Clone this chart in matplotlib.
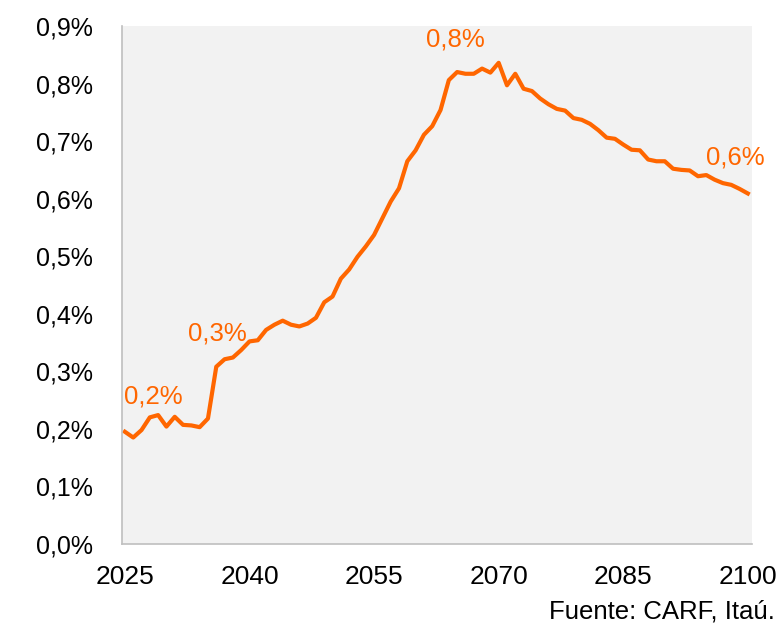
import matplotlib.pyplot as plt
from matplotlib.ticker import FuncFormatter

years = list(range(2025, 2101))
values = [
    0.195, 0.185, 0.198, 0.220, 0.224, 0.204, 0.221, 0.207, 0.206, 0.203,  # 2025-2034
    0.218, 0.308, 0.321, 0.324, 0.337, 0.352, 0.354, 0.372, 0.381, 0.388,  # 2035-2044
    0.381, 0.378, 0.383, 0.393, 0.420, 0.430, 0.461, 0.477, 0.499, 0.517,  # 2045-2054
    0.537, 0.566, 0.595, 0.618, 0.665, 0.684, 0.711, 0.726, 0.754, 0.806,  # 2055-2064
    0.820, 0.817, 0.817, 0.826, 0.819, 0.836, 0.797, 0.817, 0.791, 0.787,  # 2065-2074
    0.774, 0.764, 0.756, 0.753, 0.740, 0.737, 0.730, 0.719, 0.706, 0.704,  # 2075-2084
    0.694, 0.685, 0.684, 0.668, 0.665, 0.665, 0.652, 0.650, 0.649, 0.639,  # 2085-2094
    0.641, 0.633, 0.627, 0.624, 0.617, 0.609,                              # 2095-2100
]
x_ticks = [2025, 2040, 2055, 2070, 2085, 2100]
y_ticks = [0.0, 0.1, 0.2, 0.3, 0.4, 0.5, 0.6, 0.7, 0.8, 0.9]
labels = ["0,2%", "0,3%", "0,8%", "0,6%"]
label_pos = [(2028.4, 0.257), (2036.1, 0.365), (2064.8, 0.876), (2098.5, 0.672)]

ORANGE = "#FF6600"

plt.rcParams["font.family"] = ["Liberation Sans", "DejaVu Sans"]

fig = plt.figure(figsize=(7.82, 6.26), dpi=100)
ax = fig.add_axes([122 / 782, 1 - 544 / 626, 630 / 782, 518 / 626])
ax.set_facecolor("#F2F2F2")

ax.plot(years, values, color=ORANGE, lw=3, solid_joinstyle="round")

for txt, (xx, yy) in zip(labels, label_pos):
    ax.text(xx, yy, txt, color=ORANGE, fontsize=18.5, ha="center", va="center")

ax.set_xlim(2024.65, 2100.5)
ax.set_ylim(0, 0.9)
ax.set_xticks(x_ticks)
ax.set_yticks(y_ticks)
ax.yaxis.set_major_formatter(FuncFormatter(lambda v, p: f"{v:.1f}%".replace(".", ",")))
ax.tick_params(axis="both", length=0, colors="black")
ax.tick_params(axis="y", pad=21, labelsize=18)
ax.tick_params(axis="x", pad=15, labelsize=19)

for s in ["top", "right"]:
    ax.spines[s].set_visible(False)
for s in ["left", "bottom"]:
    ax.spines[s].set_color("#BFBFBF")
    ax.spines[s].set_linewidth(1.2)

fig.text(775 / 782, 1 - 619 / 626, "Fuente: CARF, Itaú.", ha="right", va="baseline",
         fontsize=18.5, color="black")

fig.savefig("out.png", dpi=100)
